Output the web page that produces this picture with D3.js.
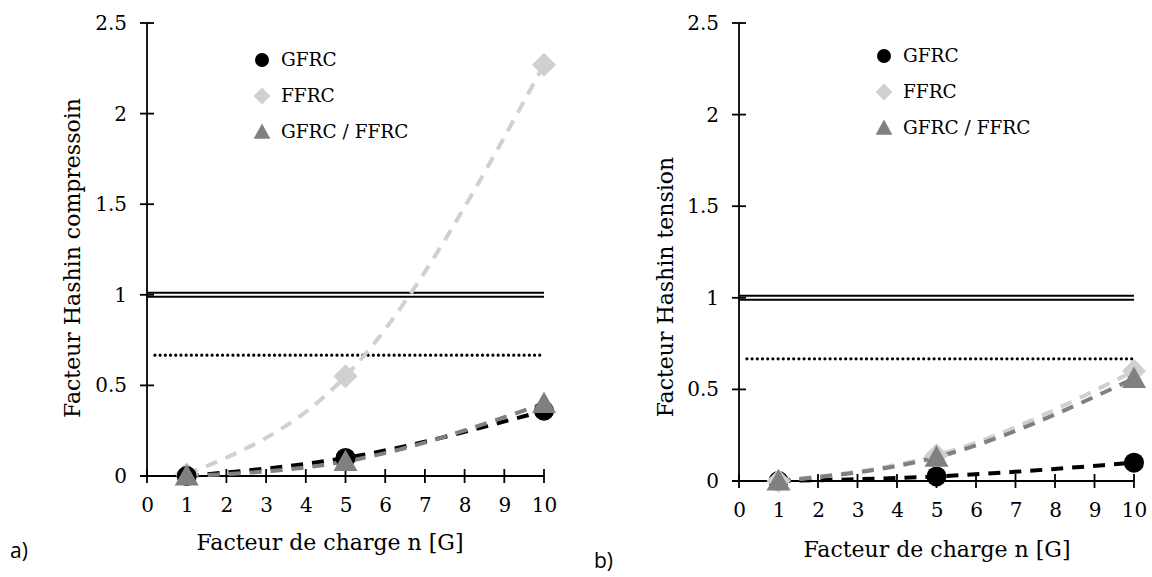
<!DOCTYPE html>
<html><head><meta charset="utf-8">
<script src="https://cdn.jsdelivr.net/npm/d3@7"></script>
<style>body{margin:0;background:#fff}svg{display:block}</style>
</head><body>
<svg id="c" width="1152" height="577"></svg>
<script>
// ---- data ----
const xValues = [1, 5, 10];
const xTicks = [0,1,2,3,4,5,6,7,8,9,10];
const yTicks = [0, 0.5, 1, 1.5, 2, 2.5];
const yTickLabels = ["0", "0.5", "1", "1.5", "2", "2.5"];
const seriesNames = ["GFRC", "FFRC", "GFRC / FFRC"];
// panel a) compression
const compGFRC = [0.00, 0.10, 0.36];
const compFFRC = [0.01, 0.55, 2.27];
const compRatio = [0.00, 0.08, 0.40];
// panel b) tension
const tensGFRC = [0.00, 0.025, 0.10];
const tensFFRC = [0.00, 0.14, 0.60];
const tensRatio = [0.00, 0.13, 0.56];
const limitLine = 1;
const safetyLine = 2/3;

const svg = d3.select("#c");
const serif = "'DejaVu Serif', 'Liberation Serif', serif";
const colors = {"GFRC":"#000000","FFRC":"#d0d0d0","GFRC / FFRC":"#808080"};

function marker(g, name, x, y, big) {
  const s = big ? 1 : 0.7;
  if (name === "GFRC") {
    g.append("circle").attr("cx", x).attr("cy", y).attr("r", 10*s).attr("fill", colors[name]);
  } else if (name === "FFRC") {
    const h = 12*s;
    g.append("path").attr("d", `M${x},${y-h}L${x+h},${y}L${x},${y+h}L${x-h},${y}Z`).attr("fill", colors[name]);
  } else {
    const h = 12*s;
    g.append("path").attr("d", `M${x},${y-h}L${x+h},${y+h*0.8}L${x-h},${y+h*0.8}Z`).attr("fill", colors[name]);
  }
}

function panel(cfg) {
  const x = d3.scaleLinear().domain([0,10]).range([cfg.x0, cfg.x1]);
  const y = d3.scaleLinear().domain([0,2.5]).range([cfg.y0, cfg.y1]);
  const g = svg.append("g");

  // reference lines
  [limitLine + 0.011, limitLine - 0.011].forEach(v => {
    g.append("line").attr("x1", x(0)).attr("x2", x(10)).attr("y1", y(v)).attr("y2", y(v))
      .attr("stroke", "#000").attr("stroke-width", 2);
  });
  g.append("line").attr("x1", x(0.2)).attr("x2", x(10)).attr("y1", y(safetyLine)).attr("y2", y(safetyLine))
    .attr("stroke", "#000").attr("stroke-width", 3.2).attr("stroke-linecap", "round").attr("stroke-dasharray", "0 5.2");

  // axes
  const yAxis = d3.axisLeft(y).tickValues(yTicks).tickFormat((d,i)=>yTickLabels[i]).tickSize(0).tickPadding(20);
  const ya = g.append("g").attr("transform", `translate(${x(0)},0)`).call(yAxis);
  ya.select(".domain").remove();
  ya.selectAll("text").attr("font-family", serif).attr("font-size", 20).attr("fill", "#000");
  g.append("line").attr("x1", x(0)).attr("x2", x(0)).attr("y1", y(0)).attr("y2", y(2.5)).attr("stroke","#000").attr("stroke-width",1.8);
  yTicks.forEach(v => g.append("line").attr("x1", x(0)-7).attr("x2", x(0)+7).attr("y1", y(v)).attr("y2", y(v)).attr("stroke","#000").attr("stroke-width",1.8));

  const xAxis = d3.axisBottom(x).tickValues(xTicks).tickFormat(d3.format("d")).tickSize(0).tickPadding(cfg.xpad);
  const xa = g.append("g").attr("transform", `translate(0,${y(0)})`).call(xAxis);
  xa.select(".domain").remove();
  xa.selectAll("text").attr("font-family", serif).attr("font-size", 20).attr("fill", "#000");
  g.append("line").attr("x1", x(0)-7).attr("x2", x(10)).attr("y1", y(0)).attr("y2", y(0)).attr("stroke","#000").attr("stroke-width",1.8);
  xTicks.forEach(v => g.append("line").attr("x1", x(v)).attr("x2", x(v)).attr("y1", y(0)-7).attr("y2", y(0)+7).attr("stroke","#000").attr("stroke-width",1.8));

  // trend lines
  const line = d3.line().x((d,i)=>x(xValues[i])).y(d=>y(d)).curve(d3.curveMonotoneX);
  cfg.order.forEach(name => {
    g.append("path").attr("d", line(cfg.series[name])).attr("fill","none")
      .attr("stroke", colors[name]).attr("stroke-width", 4).attr("stroke-dasharray", "12 9");
  });
  // markers
  cfg.order.forEach(name => {
    cfg.series[name].forEach((v,i) => marker(g, name, x(xValues[i]), y(v), true));
  });

  // legend
  seriesNames.forEach((name,i) => {
    const ly = cfg.ly + i*36;
    marker(g, name, cfg.lx, ly, false);
    g.append("text").attr("x", cfg.lx + 19).attr("y", ly).attr("dy", "0.35em")
      .attr("font-family", serif).attr("font-size", 18.5).text(name);
  });

  // titles
  g.append("text").attr("x", cfg.xtx).attr("y", cfg.xty).attr("text-anchor","middle")
    .attr("font-family", serif).attr("font-size", 22).text("Facteur de charge n [G]");
  g.append("text").attr("transform", `translate(${cfg.ytx},${cfg.yty}) rotate(-90)`).attr("text-anchor","middle")
    .attr("font-family", serif).attr("font-size", 22).text(cfg.ytitle);
  g.append("text").attr("x", cfg.px).attr("y", cfg.py).attr("font-family", "'Open Sans', 'Liberation Sans', sans-serif")
    .attr("font-size", 21).text(cfg.plabel);
}

panel({x0:147, x1:544, y0:476, y1:23, xpad:22,
  series: {"GFRC":compGFRC, "FFRC":compFFRC, "GFRC / FFRC":compRatio},
  order: ["FFRC","GFRC","GFRC / FFRC"],
  lx:262, ly:60, xtx:330, xty:550, ytx:80, yty:258, ytitle:"Facteur Hashin compressoin",
  px:10, py:558, plabel:"a)"});

panel({x0:739, x1:1134, y0:481, y1:23, xpad:22,
  series: {"GFRC":tensGFRC, "FFRC":tensFFRC, "GFRC / FFRC":tensRatio},
  order: ["GFRC","FFRC","GFRC / FFRC"],
  lx:884, ly:56, xtx:937, xty:557, ytx:673, yty:287, ytitle:"Facteur Hashin tension",
  px:594, py:568, plabel:"b)"});
</script>
</body></html>
